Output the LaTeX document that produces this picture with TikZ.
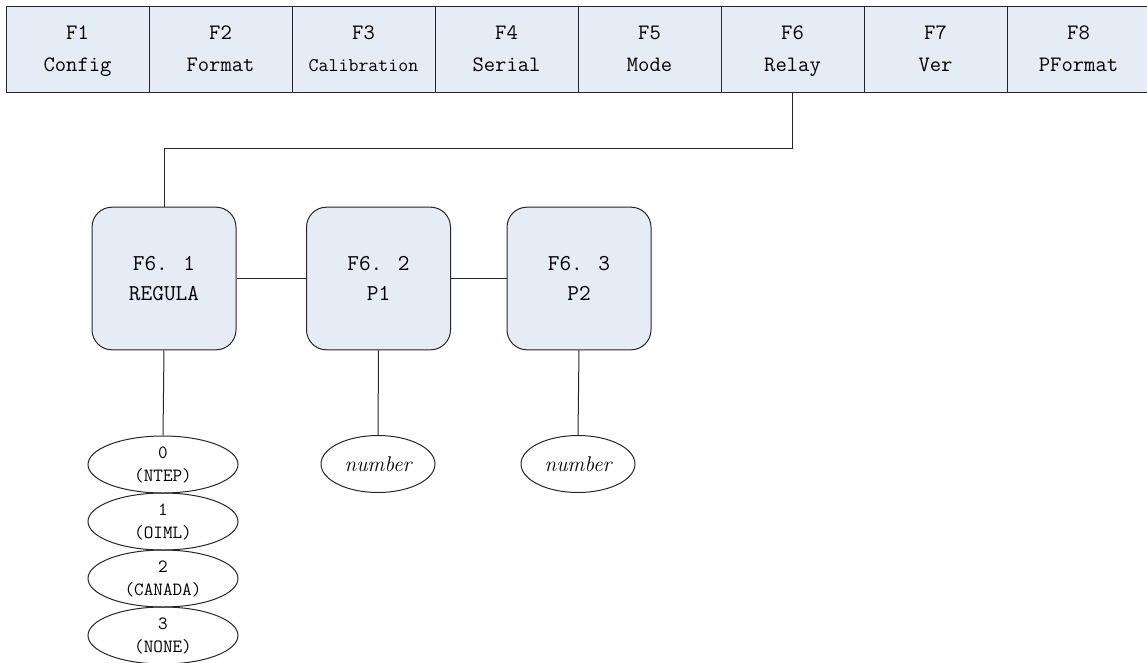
\documentclass[tikz,border=0pt]{standalone}
\usepackage{fontspec}
\usepackage{tikz}
\usetikzlibrary{arrows,shapes}
\definecolor{menublue}{RGB}{230,236,246}
\tikzstyle{menubox}=[rectangle,draw=black!85,fill=menublue,line width=0.75pt,minimum width=107.25pt,minimum height=64.5pt,inner sep=0pt,text depth=0pt,align=center,font=\ttfamily\fontsize{16.5}{24}\selectfont]
\tikzstyle{parambox}=[rectangle,rounded corners=15pt,draw=black!85,fill=menublue,line width=0.75pt,minimum width=108pt,minimum height=107pt,inner sep=0pt,text depth=0pt,align=center,font=\ttfamily\fontsize{17}{22}\selectfont]
\tikzstyle{option}=[ellipse,draw=black!85,line width=0.75pt,minimum width=112.5pt,minimum height=42.75pt,inner sep=0pt,text depth=0pt,align=center,font=\ttfamily\fontsize{14}{17}\selectfont]
\tikzstyle{valuebox}=[ellipse,draw=black!85,line width=0.75pt,minimum width=85.5pt,minimum height=42.75pt,inner sep=0pt,font=\itshape\fontsize{16}{18}\selectfont]
\tikzstyle{link}=[draw=black!85,line width=0.75pt]

\begin{document}
\begin{tikzpicture}[x=0.75pt,y=-0.75pt]
    \useasboundingbox (0,0) rectangle (1147,662);
    % Menu bar along the top
    \foreach \pos/\name/\txt in {{(77.5,49)/F1/{F1\\Config}}, {(220.5,49)/F2/{F2\\Format}},
        {(363.5,49)/F3/{F3\\{\fontsize{14.5}{24}\selectfont Calibration}}}, {(506.5,49)/F4/{F4\\Serial}},
        {(649.5,49)/F5/{F5\\Mode}}, {(792.5,49)/F6/{F6\\Relay}}, {(935.5,49)/F7/{F7\\Ver}},
        {(1078.5,49)/F8/{F8\\PFormat}}}
        \node[menubox] (\name) at \pos {\txt};

    % Parameters of F6
    \foreach \pos/\name/\txt in {{(164,278.5)/R1/{F6. 1\\REGULA}}, {(378.5,278.5)/R2/{F6. 2\\P1}}, {(579,278.5)/R3/{F6. 3\\P2}}}
        \node[parambox] (\name) at \pos {\txt};

    % Values
    \foreach \pos/\name/\txt in {{(163,464.5)/E0/{0\\(NTEP)}}, {(163,521.5)/E1/{1\\(OIML)}},
        {(163,578.5)/E2/{2\\(CANADA)}}, {(163,635.5)/E3/{3\\(NONE)}}}
        \node[option] (\name) at \pos {\txt};
    \node[valuebox] (N2) at (378,464) {number};
    \node[valuebox] (N3) at (578,464) {number};

    % Connections
    \path[link] (F6.south) -- ++(0,56) -| (R1.north);
    \foreach \source/\dest in {R1.east/R2.west, R2.east/R3.west, R1.south/E0.north, R2.south/N2.north, R3.south/N3.north}
        \path[link] (\source) -- (\dest);
\end{tikzpicture}
\end{document}
